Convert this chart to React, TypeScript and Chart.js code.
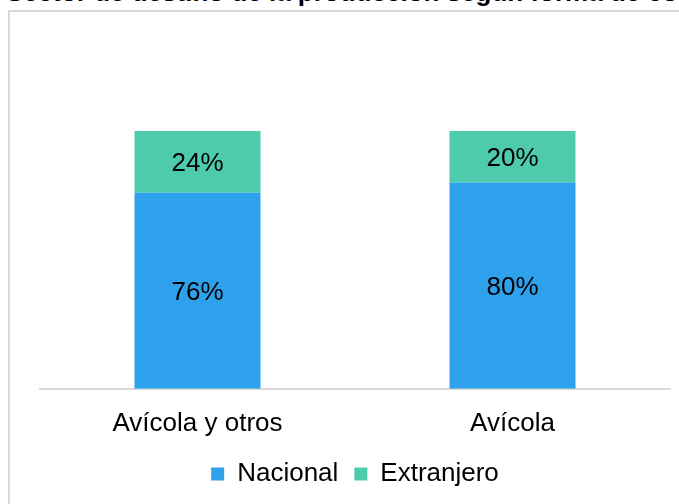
import React, { useEffect, useRef } from "react";
import { Chart, registerables } from "chart.js";

Chart.register(...registerables);

const categories = ["Avícola y otros", "Avícola"];
const nacional = [76, 80];
const extranjero = [24, 20];
const seriesNames = ["Nacional", "Extranjero"];
const titleText = "Sector de destino de la producción según forma de comercialización";

const FONT = "'Liberation Sans', Arial, sans-serif";

const labelPlugin = {
  id: "segLabels",
  afterDatasetsDraw(chart: any) {
    const ctx = chart.ctx;
    ctx.save();
    ctx.font = `26px ${FONT}`;
    ctx.fillStyle = "#000";
    ctx.textAlign = "center";
    ctx.textBaseline = "middle";
    chart.data.datasets.forEach((ds: any, di: number) => {
      const meta = chart.getDatasetMeta(di);
      meta.data.forEach((el: any, i: number) => {
        const p = el.getProps(["x", "y", "base"], true);
        ctx.fillText(ds.data[i] + "%", p.x, (p.y + p.base) / 2 + 2);
      });
    });
    ctx.restore();
  },
};

export default function App() {
  const ref = useRef<HTMLCanvasElement | null>(null);
  useEffect(() => {
    if (!ref.current) return;
    const chart = new Chart(ref.current, {
      type: "bar",
      data: {
        labels: categories,
        datasets: [
          {
            label: seriesNames[0],
            data: nacional,
            backgroundColor: "#2EA1EC",
            borderWidth: 0,
          },
          {
            label: seriesNames[1],
            data: extranjero,
            backgroundColor: "#4DCBAC",
            borderWidth: 0,
          },
        ],
      },
      options: {
        responsive: false,
        animation: false,
        devicePixelRatio: 1,
        datasets: { bar: { barPercentage: 0.4, categoryPercentage: 1 } },
        layout: { padding: { left: 40, right: 9, top: 131, bottom: 7 } },
        plugins: {
          tooltip: { enabled: false },
          title: { display: false },
          legend: {
            position: "bottom",
            labels: {
              font: { family: FONT, size: 26 },
              color: "#000",
              boxWidth: 13,
              boxHeight: 13,
              padding: 16,
            },
          },
        },
        scales: {
          x: {
            stacked: true,
            grid: { display: false },
            border: { display: true, color: "#d9d9d9", width: 2 },
            ticks: { font: { family: FONT, size: 26 }, color: "#000", padding: 11 },
            afterFit: (scale: any) => {
              scale.height = scale.height - 5;
            },
          },
          y: {
            stacked: true,
            display: false,
            min: 0,
            max: 100,
          },
        },
      },
      plugins: [labelPlugin],
    });
    return () => chart.destroy();
  }, []);
  return (
    <div
      style={{
        position: "fixed",
        left: 0,
        top: 0,
        width: 679,
        height: 504,
        overflow: "hidden",
        background: "#fff",
      }}
    >
      <div
        style={{
          position: "absolute",
          left: 8,
          top: 10,
          width: 720,
          height: 540,
          border: "2px solid #d9d9d9",
          boxSizing: "border-box",
        }}
      />
      <div
        style={{
          position: "absolute",
          left: 6,
          top: -21,
          whiteSpace: "nowrap",
          fontFamily: FONT,
          fontWeight: "bold",
          fontSize: 26,
          lineHeight: "26px",
          color: "#000",
        }}
      >
        {titleText}
      </div>
      <canvas
        ref={ref}
        width={679}
        height={504}
        style={{ position: "absolute", left: 0, top: 0, width: 679, height: 504 }}
      />
    </div>
  );
}
